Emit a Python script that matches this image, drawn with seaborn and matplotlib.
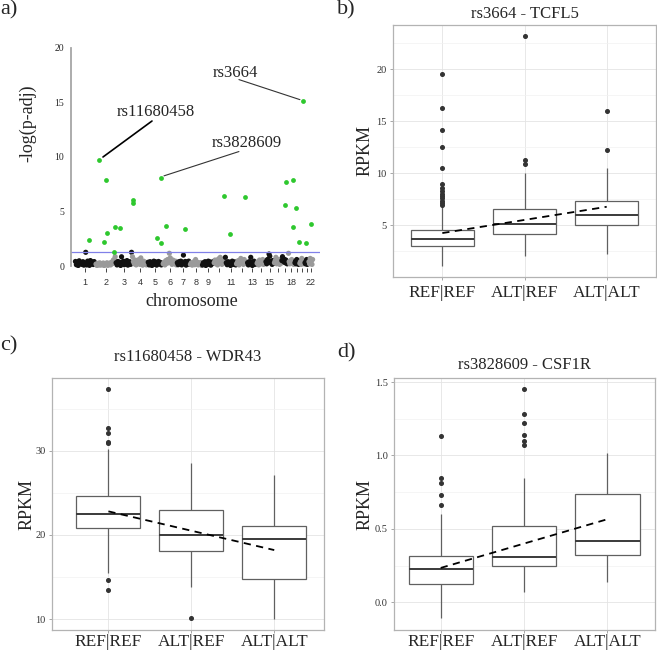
import numpy as np
import pandas as pd
import matplotlib
matplotlib.use("Agg")
import matplotlib.pyplot as plt
from matplotlib.ticker import FixedLocator
import seaborn as sns

# =================================================================
# Data
# =================================================================
# panel a: manhattan plot of eQTL p-values
chrom_len_mb = [249, 243, 198, 191, 181, 171, 159, 146, 141, 136, 135,
                134, 115, 107, 103, 90, 81, 78, 59, 63, 48, 51]
chrom_tick_labels = ["1", "2", "3", "4", "5", "6", "7", "8", "9", "", "11",
                     "", "13", "", "15", "", "", "18", "", "", "", "22"]

# non-significant SNPs, -log(p-adj) in genomic order per chromosome
bg_logp = {
    1: [0.42, 0.12, 0.35, 0.05, 0.48, 0.22, 0.3, 0.15, 0.4, 0.08, 0.27, 1.26,
        0.1, 0.45, 0.33, 0.06, 0.5, 0.2, 0.37, 0.14, 0.41, 0.25],
    2: [0.18, 0.05, 0.25, 0.1, 0.3, 0.08, 0.2, 0.12, 0.28, 0.04, 0.22, 0.15,
        0.3, 0.06, 0.19, 0.27, 0.1, 0.35, 0.22, 0.55, 0.6, 0.86],
    3: [0.3, 0.1, 0.42, 0.2, 0.35, 0.05, 0.85, 0.25, 0.45, 0.12, 0.38, 0.2,
        0.5, 0.08, 0.3, 0.4, 0.15, 1.26],
    4: [0.86, 0.4, 0.2, 0.55, 0.1, 0.35, 0.25, 0.6, 0.15, 0.75, 0.3, 0.08,
        0.45, 0.2, 0.35, 0.1, 0.25],
    5: [0.35, 0.1, 0.4, 0.22, 0.05, 0.3, 0.45, 0.15, 0.38, 0.08, 0.28, 0.42,
        0.18, 0.33, 0.1, 0.25],
    6: [0.2, 0.35, 0.1, 0.5, 0.25, 0.6, 0.3, 1.17, 0.75, 0.4, 0.15, 0.55,
        0.3, 0.2, 0.45, 0.1],
    7: [0.3, 0.12, 0.4, 0.25, 0.45, 0.1, 0.35, 1.0, 0.3, 0.42, 0.08, 0.38,
        0.2, 0.45, 0.15],
    8: [0.15, 0.3, 0.08, 0.25, 0.4, 0.12, 0.6, 0.2, 0.35, 0.1, 0.28, 0.18,
        0.32, 0.05],
    9: [0.1, 0.3, 0.2, 0.4, 0.05, 0.35, 0.25, 0.45, 0.15, 0.38, 0.08, 0.3,
        0.22, 0.42],
    10: [0.3, 0.55, 0.2, 0.4, 0.1, 0.65, 0.25, 0.8, 0.45, 0.15, 0.6, 0.3, 0.5],
    11: [0.8, 0.3, 0.12, 0.4, 0.2, 0.35, 0.05, 0.3, 0.45, 0.15, 0.25, 0.38, 0.1],
    12: [0.2, 0.35, 0.5, 0.1, 0.3, 0.7, 0.25, 0.45, 0.15, 0.6, 0.3, 0.4, 0.2],
    13: [0.3, 0.1, 0.4, 0.2, 0.8, 0.35, 0.05, 0.25, 0.45, 0.15, 0.3, 0.2],
    14: [0.25, 0.4, 0.1, 0.55, 0.3, 0.2, 0.45, 0.6, 0.15, 0.35, 0.5],
    15: [0.4, 0.2, 0.6, 0.35, 1.1, 0.9, 0.3, 0.45, 0.15, 0.5, 0.25],
    16: [0.3, 0.5, 0.8, 0.2, 0.45, 0.35, 0.6, 0.15, 0.4, 0.25],
    17: [0.5, 0.86, 0.7, 0.4, 0.6, 0.3, 0.55, 0.45, 0.2, 0.35],
    18: [1.17, 0.4, 0.2, 0.5, 0.3, 0.6, 0.25, 0.45, 0.15, 0.35],
    19: [0.3, 0.45, 0.2, 0.6, 0.35, 0.5, 0.15, 0.4],
    20: [0.25, 0.4, 0.15, 0.7, 0.3, 0.5, 0.2, 0.35],
    21: [0.3, 0.2, 0.45, 0.6, 0.15, 0.35, 0.25],
    22: [0.4, 0.2, 0.7, 0.3, 0.5, 0.15, 0.6],
}

# significant SNPs: chromosome, position (Mb), -log(p-adj)
sig_chrom = [1, 2, 2, 2, 2, 2, 2, 3, 4, 4, 5, 5, 5, 6, 7, 10, 11, 12,
             17, 17, 18, 18, 19, 19, 20, 21, 22]
sig_pos = [173, 45, 102, 126, 138, 227, 239, 52, 16, 16, 107, 156, 160, 39,
           102, 130, 61, 103, 42, 54, 62, 62, 16, 49, 42, 19, 32]
sig_logp = [2.39, 9.75, 2.18, 7.88, 3.04, 1.32, 3.59, 3.47, 6.07, 5.77, 2.58,
            2.15, 8.04, 3.65, 3.44, 6.44, 2.91, 6.32, 5.58, 7.70, 7.88, 3.62,
            5.34, 2.24, 15.09, 2.15, 3.87]
threshold = 1.3

# panels b-d: expression (RPKM) by genotype
genotypes = ["REF|REF", "ALT|REF", "ALT|ALT"]

tcfl5_ref_ref = [1.05, 1.6, 1.9, 2.1, 2.25, 2.35, 2.45, 2.55, 2.62, 2.7, 2.76,
                 2.82, 2.87, 2.92, 2.95, 2.98, 3.0, 3.03, 3.08, 3.12, 3.17,
                 3.22, 3.27, 3.32, 3.38, 3.43, 3.48, 3.53, 3.58, 3.62, 3.65,
                 3.7, 3.75, 3.8, 3.86, 3.92, 3.98, 4.04, 4.1, 4.17, 4.24, 4.3,
                 4.37, 4.44, 4.5, 4.55, 6.85, 6.95, 7.15, 7.35, 7.6, 7.8, 8.0,
                 8.3, 8.6, 9.0, 10.5, 12.55, 14.15, 16.25, 19.55]
tcfl5_alt_ref = [2.05, 3.0, 3.5, 3.8, 3.95, 4.05, 4.1, 4.3, 4.5, 4.7, 4.85,
                 4.95, 5.06, 5.3, 5.6, 5.9, 6.15, 6.35, 6.54, 7.2, 8.5, 10.0,
                 10.9, 11.28, 23.2]
tcfl5_alt_alt = [2.18, 3.6, 4.3, 4.75, 5.0, 5.3, 5.55, 5.75, 5.93, 6.3, 6.7,
                 7.0, 7.3, 8.6, 10.5, 12.18, 15.99]
tcfl5_trend = [4.23, 6.76]

wdr43_ref_ref = [13.5, 14.6, 15.5, 18.0, 19.5, 20.3, 20.87, 21.2, 21.5, 21.8,
                 22.1, 22.3, 22.54, 22.9, 23.3, 23.7, 24.1, 24.4, 24.68, 30.2,
                 30.9, 31.1, 32.1, 32.7, 37.3]
wdr43_alt_ref = [10.1, 13.85, 16.0, 17.3, 18.05, 18.6, 19.1, 19.6, 20.05,
                 21.0, 21.8, 22.5, 23.0, 24.5, 26.0, 27.3, 28.5]
wdr43_alt_alt = [10.0, 12.0, 13.6, 14.75, 16.0, 17.5, 19.5, 20.1, 20.6, 21.1,
                 23.0, 25.0, 27.1]
wdr43_trend = [22.8, 18.2]

csf1r_ref_ref = [-0.109, 0.0, 0.04, 0.07, 0.09, 0.105, 0.115, 0.123, 0.14,
                 0.16, 0.175, 0.19, 0.205, 0.215, 0.225, 0.24, 0.255, 0.27,
                 0.285, 0.298, 0.31, 0.318, 0.45, 0.60, 0.66, 0.728, 0.812,
                 0.848, 1.13]
csf1r_alt_ref = [0.073, 0.14, 0.17, 0.195, 0.21, 0.225, 0.235, 0.24, 0.245,
                 0.255, 0.265, 0.275, 0.285, 0.292, 0.3, 0.306, 0.311, 0.33,
                 0.36, 0.39, 0.42, 0.45, 0.48, 0.505, 0.523, 0.68, 0.846,
                 1.07, 1.10, 1.138, 1.22, 1.281, 1.454]
csf1r_alt_alt = [0.141, 0.22, 0.29, 0.325, 0.36, 0.39, 0.42, 0.55, 0.65,
                 0.739, 0.85, 0.93, 1.017]
csf1r_trend = [0.234, 0.566]

# =================================================================
# Style / layout
# =================================================================
sns.set_style("white")
plt.rcParams["font.family"] = ["Liberation Serif", "DejaVu Serif"]

W, H = 657, 651
fig = plt.figure(figsize=(W / 100, H / 100), dpi=100)


def px_axes(left, top, right, bottom):
    return fig.add_axes([left / W, 1 - bottom / H, (right - left) / W, (bottom - top) / H])


# =================================================================
# Panel a - Manhattan
# =================================================================
offsets = np.concatenate([[0], np.cumsum(chrom_len_mb)[:-1]])
centers = offsets + np.array(chrom_len_mb) / 2

bg_rows = []
for c, vals in bg_logp.items():
    n = len(vals)
    pos = offsets[c - 1] + (np.arange(n) + 0.5) / n * chrom_len_mb[c - 1]
    grp = "odd" if c % 2 == 1 else "even"
    bg_rows.append(pd.DataFrame({"x": pos, "logp": vals, "grp": grp}))
bg_df = pd.concat(bg_rows, ignore_index=True)

sig_df = pd.DataFrame({
    "x": offsets[np.array(sig_chrom) - 1] + np.array(sig_pos),
    "logp": sig_logp,
})

ax = px_axes(71, 40, 320, 268)
sns.scatterplot(data=bg_df, x="x", y="logp", hue="grp",
                palette={"odd": "#111111", "even": "#9a9a9a"},
                s=14, linewidth=0, legend=False, ax=ax)
ax.axhline(threshold, color="#8080e8", lw=0.9, zorder=1)
sns.scatterplot(data=sig_df, x="x", y="logp", color="#2ec82e",
                s=12, linewidth=0, legend=False, ax=ax, zorder=3)

ax.set_xlim(-48, 2965)
ax.set_ylim(-0.18, 20.73)
for s in ["top", "right", "bottom"]:
    ax.spines[s].set_visible(False)
ax.spines["left"].set_bounds(0, 20)
ax.spines["left"].set_color("#a6a6a6")
ax.spines["left"].set_linewidth(1.3)
ax.set_yticks([0, 5, 10, 15, 20])
ax.tick_params(axis="y", length=3, width=0.8, color="#666666", labelsize=7, pad=2)
ax.set_xticks(centers)
ax.set_xticklabels(chrom_tick_labels, family=["Liberation Sans", "DejaVu Sans"],
                   fontsize=6.5, color="#333333")
ax.tick_params(axis="x", length=3, width=0.7, color="#444444", pad=4, bottom=True)
ax.set_xlabel("chromosome", fontsize=13)
ax.xaxis.set_label_coords(0.486, -0.149)
ax.xaxis.label.set_va("center")
ax.set_ylabel("-log(p-adj)", fontsize=13, va="center")
ax.yaxis.set_label_coords(-0.173, 0.636)

# SNP labels with leader lines
ax.text(980, 14.15, "rs11680458", ha="center", va="center", fontsize=12)
ax.plot([932, 339], [13.3, 10.0], color="black", lw=1.2)
ax.text(2081, 11.3, "rs3828609", ha="center", va="center", fontsize=12)
ax.plot([1984, 1077], [10.5, 8.27], color="#333333", lw=0.8)
ax.text(1936, 17.7, "rs3664", ha="center", va="center", fontsize=12)
ax.plot([1984, 2722], [17.1, 15.26], color="#333333", lw=0.8)


# =================================================================
# Panels b-d - boxplots
# =================================================================
def box_panel(ax, groups, trend, title, ylim, major, minor, xlim,
              title_y, ylabel_x, xpad):
    df = pd.DataFrame({
        "genotype": np.repeat(genotypes, [len(g) for g in groups]),
        "rpkm": np.concatenate(groups),
    })
    sns.boxplot(data=df, x="genotype", y="rpkm", order=genotypes, ax=ax,
                color="white", linecolor="#606060", linewidth=0.9, width=0.77,
                fliersize=2.6, showcaps=False,
                flierprops=dict(marker="o", markerfacecolor="#333333",
                                markeredgecolor="#333333"),
                medianprops=dict(color="#3a3a3a", linewidth=1.4))
    ax.plot([0, 2], trend, color="black", ls=(0, (4, 3)), lw=1.3, zorder=5)
    ax.set_xlim(*xlim)
    ax.set_ylim(*ylim)
    ax.set_yticks(major)
    ax.yaxis.set_minor_locator(FixedLocator(minor))
    ax.set_axisbelow(True)
    ax.grid(True, which="major", color="#e4e4e4", lw=0.6)
    ax.grid(True, which="minor", axis="y", color="#f1f1f1", lw=0.5)
    for s in ax.spines.values():
        s.set_visible(True)
        s.set_color("#b3b3b3")
        s.set_linewidth(0.9)
    ax.tick_params(axis="y", which="major", length=2.5, width=0.6, color="#999999",
                   labelsize=7.5, labelcolor="#333333", pad=2, left=True)
    ax.tick_params(axis="y", which="minor", length=0)
    ax.tick_params(axis="x", length=2.5, width=0.6, color="#999999",
                   labelsize=12.5, pad=xpad, bottom=True)
    ax.set_xlabel("")
    ax.set_ylabel("RPKM", fontsize=13, va="center")
    ax.yaxis.set_label_coords(ylabel_x, 0.5)
    ax.text(0.5, title_y, title, transform=ax.transAxes, ha="center",
            va="center", fontsize=12)


ax_b = px_axes(393, 25, 656, 277)
box_panel(ax_b, [tcfl5_ref_ref, tcfl5_alt_ref, tcfl5_alt_alt], tcfl5_trend,
          "rs3664 - TCFL5", (0.0, 24.26), [5, 10, 15, 20],
          [2.5, 7.5, 12.5, 17.5, 22.5], (-0.6, 2.6), 1.044, -0.106, 3)

ax_c = px_axes(52, 378, 324, 630)
box_panel(ax_c, [wdr43_ref_ref, wdr43_alt_ref, wdr43_alt_alt], wdr43_trend,
          "rs11680458 - WDR43", (8.7, 38.65), [10, 20, 30], [15, 25, 35],
          (-0.68, 2.6), 1.085, -0.092, 0.5)

ax_d = px_axes(394, 378, 655, 630)
box_panel(ax_d, [csf1r_ref_ref, csf1r_alt_ref, csf1r_alt_alt], csf1r_trend,
          "rs3828609 - CSF1R", (-0.189, 1.528), [0.0, 0.5, 1.0, 1.5],
          [0.25, 0.75, 1.25], (-0.56, 2.57), 1.052, -0.111, 0.5)

# panel letters
for lab, x, y in [("a)", 0, 10), ("b)", 337, 10), ("c)", 0, 346), ("d)", 337, 353)]:
    fig.text(x / W, 1 - y / H, lab, ha="left", va="center", fontsize=16)

fig.savefig("out.png", dpi=100)
